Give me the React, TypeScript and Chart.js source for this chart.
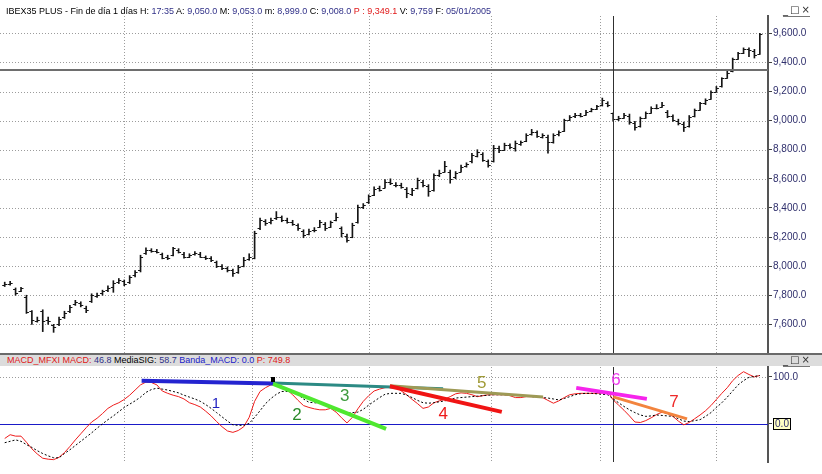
import React, { useEffect, useRef } from 'react';
import { Chart, registerables } from 'chart.js';

Chart.register(...registerables);
Chart.defaults.font.family = '"Liberation Sans", Arial, sans-serif';

// ---- Price bars (daily OHLC) ----
const OPENS = [
  7870, 7880, 7840, 7830, 7790, 7690, 7625, 7690, 7630, 7595,
  7600, 7650, 7690, 7740, 7745, 7715, 7760, 7795, 7815, 7835,
  7860, 7890, 7895, 7890, 7940, 7970, 8090, 8110, 8105, 8080,
  8060, 8075, 8110, 8085, 8065, 8080, 8085, 8060, 8055, 8025,
  8000, 7985, 7970, 7960, 8000, 8050, 8055, 8260, 8310, 8300,
  8330, 8335, 8315, 8300, 8280, 8240, 8220, 8245, 8270, 8290,
  8270, 8320, 8260, 8210, 8200, 8300, 8405, 8440, 8490, 8540,
  8540, 8580, 8560, 8560, 8530, 8495, 8540, 8580, 8550, 8520,
  8625, 8650, 8650, 8610, 8650, 8690, 8720, 8760, 8770, 8720,
  8720, 8810, 8800, 8830, 8815, 8840, 8860, 8905, 8920, 8890,
  8890, 8850, 8905, 8930, 9005, 9030, 9040, 9040, 9065, 9080,
  9110, 9120, 9050, 9010, 9020, 9030, 8985, 8960, 9020, 9055,
  9090, 9095, 9060, 9030, 9000, 8980, 8960, 9030, 9075, 9120,
  9150, 9200, 9235, 9295, 9340, 9425, 9465, 9490, 9480, 9460,
];
const HIGHS = [
  7890, 7895, 7850, 7855, 7800, 7695, 7650, 7700, 7650, 7600,
  7650, 7690, 7730, 7765, 7755, 7725, 7810, 7815, 7835, 7865,
  7900, 7915, 7905, 7935, 7970, 8075, 8125, 8120, 8115, 8090,
  8075, 8130, 8120, 8095, 8085, 8100, 8095, 8070, 8065, 8035,
  8010, 7995, 7980, 8005, 8060, 8085, 8240, 8330, 8320, 8330,
  8375, 8345, 8330, 8315, 8290, 8250, 8255, 8265, 8315, 8300,
  8310, 8365, 8270, 8220, 8295, 8420, 8430, 8490, 8545, 8550,
  8595, 8600, 8575, 8570, 8540, 8535, 8605, 8590, 8560, 8635,
  8660, 8720, 8660, 8650, 8695, 8710, 8775, 8800, 8780, 8730,
  8830, 8825, 8845, 8840, 8860, 8860, 8910, 8940, 8930, 8910,
  8900, 8910, 8930, 9010, 9035, 9050, 9050, 9070, 9085, 9105,
  9155, 9130, 9053, 9030, 9050, 9045, 8995, 9025, 9060, 9095,
  9110, 9125, 9070, 9040, 9010, 8990, 9035, 9080, 9125, 9150,
  9205, 9235, 9295, 9340, 9430, 9470, 9500, 9500, 9490, 9600,
];
const LOWS = [
  7860, 7870, 7800, 7825, 7675, 7600, 7615, 7550, 7600, 7545,
  7590, 7640, 7680, 7730, 7720, 7680, 7750, 7785, 7800, 7825,
  7820, 7880, 7865, 7880, 7925, 7960, 8080, 8095, 8090, 8050,
  8045, 8070, 8090, 8055, 8058, 8075, 8060, 8045, 8030, 7990,
  7975, 7960, 7930, 7950, 7995, 8040, 8050, 8250, 8280, 8290,
  8320, 8305, 8295, 8280, 8245, 8195, 8215, 8235, 8265, 8245,
  8265, 8310, 8200, 8165, 8195, 8295, 8395, 8430, 8485, 8515,
  8535, 8560, 8545, 8535, 8470, 8485, 8530, 8545, 8480, 8515,
  8615, 8645, 8570, 8600, 8645, 8680, 8710, 8750, 8720, 8680,
  8715, 8780, 8795, 8805, 8790, 8830, 8855, 8900, 8885, 8880,
  8777, 8845, 8895, 8925, 9000, 9020, 9025, 9035, 9060, 9075,
  9100, 9095, 8999, 9000, 9015, 8975, 8935, 8955, 9015, 9050,
  9080, 9090, 9020, 8995, 8970, 8925, 8955, 9025, 9070, 9110,
  9145, 9195, 9230, 9290, 9335, 9420, 9460, 9440, 9430, 9455,
];
const CLOSES = [
  7878, 7886, 7813, 7847, 7683, 7630, 7632, 7625, 7620, 7585,
  7640, 7680, 7720, 7751, 7733, 7700, 7800, 7805, 7830, 7852,
  7882, 7905, 7876, 7927, 7961, 8065, 8111, 8105, 8099, 8058,
  8054, 8122, 8099, 8065, 8075, 8090, 8065, 8055, 8042, 8000,
  7985, 7973, 7950, 7996, 8042, 8060, 8230, 8317, 8294, 8320,
  8340, 8317, 8300, 8290, 8260, 8214, 8243, 8250, 8305, 8260,
  8300, 8340, 8230, 8180, 8283, 8408, 8420, 8480, 8530, 8525,
  8580, 8570, 8558, 8546, 8500, 8523, 8590, 8558, 8516, 8626,
  8640, 8690, 8600, 8640, 8683, 8700, 8764, 8786, 8729, 8695,
  8815, 8798, 8832, 8820, 8844, 8850, 8900, 8924, 8895, 8900,
  8855, 8901, 8920, 9004, 9027, 9038, 9035, 9061, 9078, 9100,
  9142, 9107, 9008, 9016, 9038, 8990, 8958, 9016, 9050, 9085,
  9090, 9107, 9030, 9004, 8981, 8958, 9027, 9073, 9119, 9142,
  9199, 9222, 9290, 9330, 9421, 9462, 9490, 9485, 9451, 9595,
];

// ---- MACD indicator ----
const MACD = [
  -31, -23, -26, -26, -39, -53, -64, -73, -75, -76,
  -71, -61, -48, -34, -21, -8, 4, 12, 22, 33,
  40, 45, 52, 61, 72, 83, 89, 88, 83, 70,
  65, 61, 58, 53, 45, 41, 36, 27, 17, 5,
  -6, -15, -18, -14, -6, 14, 48, 69, 77, 83,
  83, 80, 72, 62, 50, 39, 35, 32, 30, 30,
  33, 25, 13, 2, 14, 32, 48, 60, 70, 74,
  77, 78, 79, 70, 62, 52, 43, 33, 36, 45,
  49, 53, 58, 64, 66, 65, 62, 58, 60, 62,
  62, 62, 62, 60, 56, 56, 58, 58, 58, 56,
  50, 44, 49, 56, 62, 64, 65, 65, 65, 65,
  66, 69, 51, 40, 29, 17, 4, 3, 7, 13,
  20, 25, 22, 16, 6, -2, 3, 11, 19, 28,
  39, 52, 65, 77, 92, 103, 111, 105, 100, 103,
];
const SIGNAL = [
  -40, -37, -34, -37, -44, -50, -57, -63, -68, -72,
  -72, -63, -55, -46, -37, -28, -19, -9, 0, 9,
  17, 26, 35, 42, 49, 57, 67, 73, 76, 74,
  72, 69, 66, 61, 57, 53, 48, 41, 33, 24,
  15, 6, -2, -3, -3, 1, 14, 28, 43, 54,
  63, 69, 69, 69, 62, 53, 46, 45, 44, 41,
  38, 33, 28, 23, 24, 25, 31, 40, 48, 56,
  63, 65, 65, 65, 61, 56, 50, 45, 44, 45,
  47, 49, 52, 55, 56, 57, 58, 59, 60, 61,
  62, 62, 62, 62, 62, 61, 60, 58, 57, 56,
  55, 53, 51, 54, 58, 62, 64, 65, 65, 64,
  63, 62, 53, 45, 37, 30, 24, 19, 16, 17,
  19, 18, 17, 16, 11, 6, 5, 7, 9, 16,
  24, 35, 45, 57, 70, 83, 92, 99, 101, 103,
];

const PRICE_TICKS = [7600, 7800, 8000, 8200, 8400, 8600, 8800, 9000, 9200, 9400, 9600];
const PRICE_MIN = 7403;
const PRICE_MAX = 9719;
const MACD_TICKS = [0, 100];
const MACD_MIN = -81;
const MACD_MAX = 121;
const BAND_LEVEL = 0;
const MONTH_LINES = [22, 45.5, 67, 89.5, 109.5, 131];
const CURSOR_INDEX = 112;
const CURSOR_PRICE = 9349.1;

// hand-drawn trend lines on the MACD pane: [bar index, MACD value]
const TREND_LINES = [
  { id: '1', from: [25.2, 92], to: [49.4, 86], text: [38.9, 42] },
  { id: '3', from: [49.4, 87], to: [80.7, 74.5], text: [62.6, 59.6] },
  { id: '5', from: [70.9, 81], to: [99.1, 57.4], text: [87.8, 87] },
  { id: '4', from: [70.9, 80], to: [91.5, 25.5], text: [80.7, 21] },
  { id: '2', from: [49.4, 85], to: [70.2, -10.6], text: [53.8, 19] },
  { id: '6', from: [105.2, 76.6], to: [118.2, 53.2], text: [112.5, 93.6] },
  { id: '7', from: [112, 57.4], to: [125.6, 10.6], text: [123.2, 46.8] },
];
const PIVOT_MARK = [49.4, 94];
const TREND_STYLES: Record<string, { line: string; width: number; text: string; size: number }> = {
  '1': { line: '#2424d0', width: 4, text: '#1f1fbf', size: 15 },
  '2': { line: '#4fe82f', width: 4, text: '#2a8a2a', size: 17 },
  '3': { line: '#2c8a84', width: 3, text: '#3d9a3d', size: 17 },
  '4': { line: '#f01414', width: 4, text: '#ee1a1a', size: 17 },
  '5': { line: '#9e9a56', width: 3, text: '#a09a35', size: 17 },
  '6': { line: '#f624ec', width: 4, text: '#ee3cee', size: 17 },
  '7': { line: '#f2843e', width: 3, text: '#ee2a2a', size: 17 },
};

const LABELS = Array.from({ length: CLOSES.length + 1 }, (_, i) => String(i));

const fmt = (v: number) => {
  const [int, dec] = v.toFixed(1).split('.');
  return int.replace(/\B(?=(\d{3})+(?!\d))/g, ',') + '.' + dec;
};

const GRID_COLOR = '#9c9c9c';
const AXIS_TEXT = '#2f2f6c';

function dottedV(ctx: CanvasRenderingContext2D, x: any, top: number, bottom: number) {
  ctx.save();
  ctx.strokeStyle = GRID_COLOR;
  ctx.lineWidth = 1;
  ctx.setLineDash([1, 2]);
  MONTH_LINES.forEach((i) => {
    const px = Math.round(x.getPixelForValue(i)) + 0.5;
    ctx.beginPath();
    ctx.moveTo(px, top);
    ctx.lineTo(px, bottom);
    ctx.stroke();
  });
  ctx.restore();
}

function cursorV(ctx: CanvasRenderingContext2D, x: any, top: number, bottom: number) {
  ctx.save();
  ctx.strokeStyle = '#303030';
  ctx.lineWidth = 1;
  const px = Math.round(x.getPixelForValue(CURSOR_INDEX)) + 0.5;
  ctx.beginPath();
  ctx.moveTo(px, top);
  ctx.lineTo(px, bottom);
  ctx.stroke();
  ctx.restore();
}

const priceDecor = {
  id: 'priceDecor',
  beforeDatasetsDraw(chart: any) {
    const { ctx, chartArea: a, scales } = chart;
    const { x, y } = scales;
    ctx.save();
    ctx.strokeStyle = GRID_COLOR;
    ctx.lineWidth = 1;
    ctx.setLineDash([1, 2]);
    PRICE_TICKS.forEach((v) => {
      const py = Math.round(y.getPixelForValue(v)) + 0.5;
      ctx.beginPath();
      ctx.moveTo(0, py);
      ctx.lineTo(a.right, py);
      ctx.stroke();
    });
    ctx.restore();
    dottedV(ctx, x, a.top, a.bottom);
  },
  afterDatasetsDraw(chart: any) {
    const { ctx, chartArea: a, scales } = chart;
    const { x, y } = scales;
    ctx.save();
    ctx.strokeStyle = '#151515';
    ctx.lineWidth = 1;
    CLOSES.forEach((c, i) => {
      const px = x.getPixelForValue(i);
      const yo = Math.round(y.getPixelForValue(OPENS[i])) + 0.5;
      const yc = Math.round(y.getPixelForValue(c)) + 0.5;
      ctx.beginPath();
      ctx.moveTo(px - 2.5, yo);
      ctx.lineTo(px, yo);
      ctx.moveTo(px, yc);
      ctx.lineTo(px + 2.5, yc);
      ctx.stroke();
    });
    // horizontal cursor
    const cy = Math.round(y.getPixelForValue(CURSOR_PRICE));
    ctx.fillStyle = '#6e6e6e';
    ctx.fillRect(0, cy - 1, a.right, 2);
    ctx.restore();
    cursorV(ctx, x, a.top, a.bottom);
  },
};

const macdDecor = {
  id: 'macdDecor',
  beforeDatasetsDraw(chart: any) {
    const { ctx, chartArea: a, scales } = chart;
    const { x, y } = scales;
    ctx.save();
    ctx.strokeStyle = GRID_COLOR;
    ctx.lineWidth = 1;
    ctx.setLineDash([1, 2]);
    MACD_TICKS.filter((v) => v !== BAND_LEVEL).forEach((v) => {
      const py = Math.round(y.getPixelForValue(v)) + 0.5;
      ctx.beginPath();
      ctx.moveTo(0, py);
      ctx.lineTo(a.right, py);
      ctx.stroke();
    });
    ctx.restore();
    dottedV(ctx, x, a.top, a.bottom);
    ctx.save();
    ctx.strokeStyle = '#1a1ac8';
    ctx.lineWidth = 1;
    const by = Math.round(y.getPixelForValue(BAND_LEVEL)) + 0.5;
    ctx.beginPath();
    ctx.moveTo(0, by);
    ctx.lineTo(a.right, by);
    ctx.stroke();
    ctx.restore();
  },
  afterDatasetsDraw(chart: any) {
    const { ctx, chartArea: a, scales } = chart;
    const { x, y } = scales;
    cursorV(ctx, x, a.top, a.bottom);
    ctx.save();
    ctx.lineCap = 'butt';
    TREND_LINES.forEach((t) => {
      const s = TREND_STYLES[t.id];
      ctx.strokeStyle = s.line;
      ctx.lineWidth = s.width;
      ctx.beginPath();
      ctx.moveTo(x.getPixelForValue(t.from[0]), y.getPixelForValue(t.from[1]));
      ctx.lineTo(x.getPixelForValue(t.to[0]), y.getPixelForValue(t.to[1]));
      ctx.stroke();
    });
    ctx.fillStyle = '#000';
    const mx = x.getPixelForValue(PIVOT_MARK[0]);
    const my = y.getPixelForValue(PIVOT_MARK[1]);
    ctx.fillRect(Math.round(mx) - 2, Math.round(my) - 3, 4, 5);
    ctx.textAlign = 'center';
    ctx.textBaseline = 'middle';
    TREND_LINES.forEach((t) => {
      const s = TREND_STYLES[t.id];
      ctx.fillStyle = s.text;
      ctx.font = `${s.size}px "Liberation Sans", Arial, sans-serif`;
      ctx.fillText(t.id, x.getPixelForValue(t.text[0]), y.getPixelForValue(t.text[1]));
    });
    ctx.restore();
  },
  afterDraw(chart: any) {
    const { ctx, chartArea: a, scales } = chart;
    const { y } = scales;
    const by = Math.round(y.getPixelForValue(BAND_LEVEL));
    ctx.save();
    ctx.fillStyle = '#ffffc4';
    ctx.fillRect(a.right + 5.5, by - 5.5, 17, 11);
    ctx.strokeStyle = '#000';
    ctx.lineWidth = 1;
    ctx.strokeRect(a.right + 5.5, by - 5.5, 17, 11);
    ctx.fillStyle = AXIS_TEXT;
    ctx.font = '10px "Liberation Sans", Arial, sans-serif';
    ctx.textAlign = 'center';
    ctx.textBaseline = 'middle';
    ctx.fillText(BAND_LEVEL.toFixed(1), a.right + 14, by + 0.5);
    ctx.restore();
  },
};

const axisRight = (min: number, max: number, ticks: number[], label: (v: number) => string) => ({
  position: 'right',
  min,
  max,
  afterBuildTicks: (s: any) => {
    s.ticks = ticks.map((v) => ({ value: v }));
  },
  afterFit: (s: any) => {
    s.width = 54;
    s.paddingTop = 0;
    s.paddingBottom = 0;
  },
  grid: { drawOnChartArea: false, drawTicks: true, tickLength: 4, tickColor: '#404040', tickWidth: 1 },
  border: { display: true, color: '#555555', width: 2 },
  ticks: {
    color: AXIS_TEXT,
    font: { family: '"Liberation Sans", Arial, sans-serif', size: 10 },
    padding: 1,
    callback: (v: any) => label(Number(v)),
  },
});

const Blue = ({ children }: { children: React.ReactNode }) => <span style={{ color: '#303088' }}>{children}</span>;

export default function App() {
  const topRef = useRef<HTMLCanvasElement>(null);
  const botRef = useRef<HTMLCanvasElement>(null);

  useEffect(() => {
    const top = new Chart(topRef.current as HTMLCanvasElement, {
      type: 'bar',
      data: {
        labels: LABELS,
        datasets: [
          {
            data: LOWS.map((l, i) => [l, HIGHS[i]]) as any,
            backgroundColor: '#151515',
            borderWidth: 0,
            barThickness: 1,
          },
        ],
      },
      options: {
        responsive: false,
        animation: false,
        events: [],
        layout: { padding: { left: 2, right: 0, top: 2, bottom: 1 } },
        plugins: { legend: { display: false }, tooltip: { enabled: false } },
        scales: {
          x: { display: false, offset: true },
          y: axisRight(PRICE_MIN, PRICE_MAX, PRICE_TICKS, fmt) as any,
        },
      },
      plugins: [priceDecor],
    });

    const bot = new Chart(botRef.current as HTMLCanvasElement, {
      type: 'line',
      data: {
        labels: LABELS,
        datasets: [
          {
            data: SIGNAL,
            borderColor: '#000000',
            borderWidth: 1,
            borderDash: [2, 2],
            pointRadius: 0,
            tension: 0,
          },
          {
            data: MACD,
            borderColor: '#ee1c1c',
            borderWidth: 1,
            pointRadius: 0,
            tension: 0,
          },
        ],
      },
      options: {
        responsive: false,
        animation: false,
        events: [],
        layout: { padding: { left: 2, right: 0, top: 1, bottom: 12 } },
        plugins: { legend: { display: false }, tooltip: { enabled: false } },
        scales: {
          x: { display: false, offset: true },
          y: axisRight(MACD_MIN, MACD_MAX, MACD_TICKS, (v) => (v === BAND_LEVEL ? '' : v.toFixed(1))) as any,
        },
      },
      plugins: [macdDecor],
    });

    return () => {
      top.destroy();
      bot.destroy();
    };
  }, []);

  const font = '"Liberation Sans", Arial, sans-serif';
  const icons = (top: number) => (
    <div
      style={{
        position: 'absolute',
        left: 783,
        top,
        height: 11,
        display: 'flex',
        gap: 2,
        fontSize: 10,
        lineHeight: '10px',
        color: '#333',
        fontFamily: '"DejaVu Sans", sans-serif',
        zIndex: 3,
        borderBottom: '1px solid #777',
      }}
    >
      <span>_</span>
      <span>□</span>
      <span>×</span>
    </div>
  );

  return (
    <div
      style={{
        position: 'fixed',
        left: 0,
        top: 0,
        width: 822,
        height: 474,
        background: '#ffffff',
        overflow: 'hidden',
        fontFamily: font,
      }}
    >
      <canvas ref={topRef} width={822} height={340} style={{ position: 'absolute', left: 0, top: 14, display: 'block' }} />
      <div
        style={{
          position: 'absolute',
          left: 6,
          top: 4,
          height: 14,
          lineHeight: '14px',
          fontSize: 9,
          whiteSpace: 'nowrap',
          color: '#000',
          zIndex: 2,
        }}
      >
        IBEX35 PLUS - Fin de día 1 días H: <Blue>17:35</Blue> A: <Blue>9,050.0</Blue> M: <Blue>9,053.0</Blue> m:{' '}
        <Blue>8,999.0</Blue> C: <Blue>9,008.0</Blue> <span style={{ color: '#e01818' }}>P : 9,349.1</span> V:{' '}
        <Blue>9,759</Blue> F: <Blue>05/01/2005</Blue>
      </div>
      {icons(5)}
      <div style={{ position: 'absolute', left: 0, top: 353, width: 822, height: 2, background: '#6a6a6a' }} />
      <div
        style={{
          position: 'absolute',
          left: 0,
          top: 355,
          width: 822,
          height: 11,
          background: '#dcdcdc',
          fontSize: 9,
          lineHeight: '11px',
          whiteSpace: 'nowrap',
        }}
      >
        <span style={{ marginLeft: 7, color: '#e01818' }}>MACD_MFXI MACD:</span> <Blue>46.8</Blue>{' '}
        <span style={{ color: '#000' }}>MediaSIG:</span> <Blue>58.7</Blue>{' '}
        <span style={{ color: '#2020c8' }}>Banda_MACD: 0.0</span> <span style={{ color: '#e01818' }}>P: 749.8</span>
      </div>
      {icons(355)}
      <canvas ref={botRef} width={822} height={108} style={{ position: 'absolute', left: 0, top: 366, display: 'block' }} />
    </div>
  );
}
